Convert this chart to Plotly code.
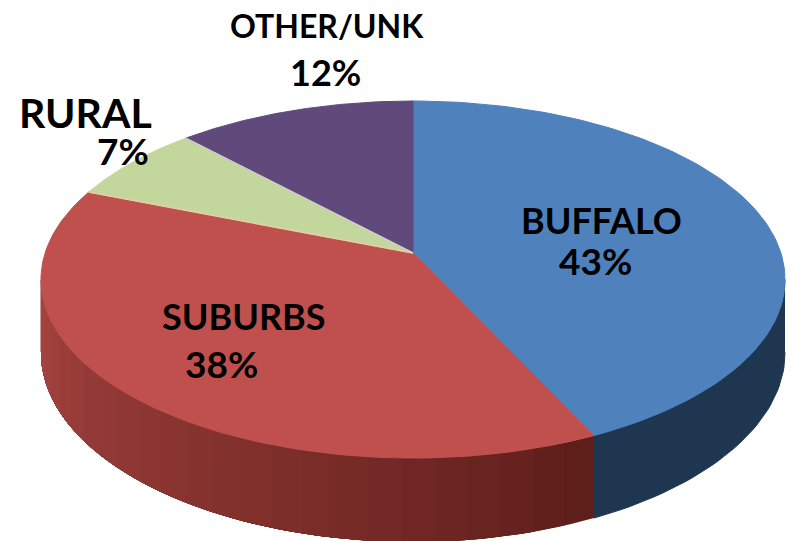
import numpy as np
import plotly.graph_objects as go

# share of each region, clockwise from 12 o'clock
categories = ["BUFFALO", "SUBURBS", "RURAL", "OTHER/UNK"]
values = [43, 38, 7, 12]
colors = ["#4F81BD", "#C0504D", "#C3D69B", "#604A7B"]

# pie geometry in page pixels (perspective view of a flat disc)
cx, cy = 413, 253
d = 6.73
f = 2476
kf = 1175
hf = 481


def project(deg, drop=0.0):
    a = np.radians(deg)
    X, Y = np.sin(a), -np.cos(a)
    w = d - Y
    return cx + X * f / w, cy + Y * kf / w + drop * hf / w


def mix(c1, c2, t):
    return "rgb(%d,%d,%d)" % tuple(c1[i] + (c2[i] - c1[i]) * t for i in range(3))


fig = go.Figure()


def poly(xs, ys, color, width=1):
    fig.add_trace(go.Scatter(
        x=xs, y=ys, mode="lines", fill="toself", fillcolor=color,
        line=dict(color=color, width=width), hoverinfo="skip", showlegend=False,
    ))


edges = np.concatenate([[0], np.cumsum(values)]) / sum(values) * 360
start_wall, end_wall = 98.5, 261.5

# side wall: navy under buffalo, banded dark red under suburbs
blue_end = edges[1]
steps = np.linspace(start_wall, blue_end, 40)
tx, ty = project(steps)
bx, by = project(steps[::-1], 1)
poly(np.r_[tx, bx], np.r_[ty, by], "#1F3650")

# each band runs on to the end of the wall so no seams show between them
bands = np.linspace(blue_end, end_wall, 25)
for i in range(len(bands) - 1):
    t = i / (len(bands) - 2)
    col = mix((94, 30, 26), (166, 68, 64), t ** 0.9)
    steps = np.linspace(bands[i], end_wall, 60)
    tx, ty = project(steps)
    bx, by = project(steps[::-1], 1)
    poly(np.r_[tx, bx], np.r_[ty, by], col, width=0)

# top face
for i, cat in enumerate(categories):
    steps = np.linspace(edges[i], edges[i + 1], 120)
    x, y = project(steps)
    poly(np.r_[cx, x, cx], np.r_[cy, y, cy], colors[i])

# pale seams round the green slice
for deg, col in [(edges[2], "#E3CFA6"), (edges[3], "#D5D3CE")]:
    x, y = project(np.array([deg]))
    fig.add_trace(go.Scatter(x=[cx, x[0]], y=[cy, y[0]], mode="lines",
                             line=dict(color=col, width=1.5),
                             hoverinfo="skip", showlegend=False))

labels = [
    (categories[0], 601, 220, 36), (f"{values[0]}%", 595, 260, 37),
    (categories[1], 244, 316, 36), (f"{values[1]}%", 221, 363, 37),
    (categories[2], 85, 112, 41), (f"{values[2]}%", 123, 150, 37),
    (categories[3], 327, 25, 32), (f"{values[3]}%", 325, 72, 36),
]
for text, x, y, size in labels:
    fig.add_annotation(x=x, y=y, text=f"<b>{text}</b>", showarrow=False,
                       font=dict(family="Lato", size=size, color="#000000"))

fig.update_xaxes(range=[0, 792], visible=False, fixedrange=True)
fig.update_yaxes(range=[541, 0], visible=False, fixedrange=True)
fig.update_layout(width=792, height=541, margin=dict(l=0, r=0, t=0, b=0),
                  paper_bgcolor="white", plot_bgcolor="white", showlegend=False)

fig.write_html("out.html", config={"displayModeBar": False},
               post_script="document.body.style.margin='0';")
